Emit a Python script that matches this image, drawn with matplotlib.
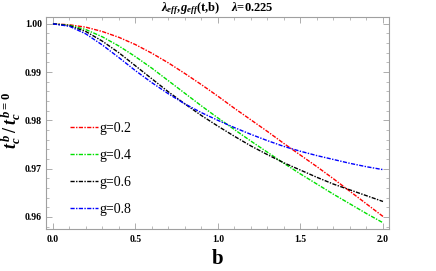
import numpy as np
import matplotlib
matplotlib.use("Agg")
import matplotlib.pyplot as plt
from matplotlib.ticker import MultipleLocator

plt.rcParams['font.family'] = 'Liberation Serif'
plt.rcParams['font.weight'] = 'bold'
plt.rcParams['mathtext.fontset'] = 'custom'
plt.rcParams['mathtext.rm'] = 'Liberation Serif:bold'
plt.rcParams['mathtext.it'] = 'Liberation Serif:italic:bold'
plt.rcParams['mathtext.bf'] = 'Liberation Serif:bold'

# values
b = [0.0, 0.1, 0.2, 0.3, 0.4, 0.5, 0.6, 0.7, 0.8, 0.9, 1.0,
     1.1, 1.2, 1.3, 1.4, 1.5, 1.6, 1.7, 1.8, 1.9, 2.0]
ratio_g02 = [1.0000, 0.9998, 0.9993, 0.9984, 0.9972, 0.9957, 0.9939, 0.9919, 0.9897, 0.9874, 0.9850,
             0.9825, 0.9801, 0.9777, 0.9752, 0.9728, 0.9704, 0.9679, 0.9653, 0.9627, 0.9601]
ratio_g04 = [1.0000, 0.9997, 0.9988, 0.9973, 0.9954, 0.9932, 0.9908, 0.9882, 0.9856, 0.9830, 0.9805,
             0.9781, 0.9757, 0.9734, 0.9711, 0.9689, 0.9668, 0.9647, 0.9627, 0.9607, 0.9588]
ratio_g06 = [1.0000, 0.9996, 0.9984, 0.9964, 0.9940, 0.9913, 0.9886, 0.9859, 0.9834, 0.9810, 0.9788,
             0.9767, 0.9747, 0.9729, 0.9712, 0.9697, 0.9682, 0.9668, 0.9656, 0.9644, 0.9632]
ratio_g08 = [1.0000, 0.9995, 0.9979, 0.9956, 0.9930, 0.9903, 0.9878, 0.9855, 0.9834, 0.9816, 0.9800,
             0.9785, 0.9771, 0.9758, 0.9746, 0.9736, 0.9727, 0.9719, 0.9711, 0.9704, 0.9698]
labels = ['g=0.2', 'g=0.4', 'g=0.6', 'g=0.8']
colors = ['#ff0000', '#00e000', '#000000', '#0000ff']

fig = plt.figure(figsize=(4.36, 2.71), dpi=100)
ax = fig.add_axes([0.1055, 0.155, 0.7865, 0.782])

for ys, lab, c in zip([ratio_g02, ratio_g04, ratio_g06, ratio_g08], labels, colors):
    ax.plot(b, ys, color=c, lw=1.0, ls=(0, (3, 1, 1, 1)), label=lab)

ax.set_xlim(-0.042, 2.036)
ax.set_ylim(0.9575, 1.0014)
ax.xaxis.set_major_locator(MultipleLocator(0.5))
ax.xaxis.set_minor_locator(MultipleLocator(0.1))
ax.yaxis.set_major_locator(MultipleLocator(0.01))
ax.yaxis.set_minor_locator(MultipleLocator(0.002))
ax.xaxis.set_major_formatter(plt.FormatStrFormatter('%.1f'))
ax.yaxis.set_major_formatter(plt.FormatStrFormatter('%.2f'))

frame = '#a0a0a0'
for s in ax.spines.values():
    s.set_color(frame)
    s.set_linewidth(0.8)
ax.tick_params(which='both', direction='in', top=True, right=True, color=frame,
               labelsize=7, pad=4)
ax.tick_params(axis='y', which='both', pad=3)
ax.tick_params(which='major', length=4, width=0.6)
ax.tick_params(which='minor', length=2.5, width=0.5)

ax.set_xlabel('b', fontsize=15, fontweight='bold', labelpad=4)
ax.set_ylabel(r'$t_c^{\,b}\,/\,t_c^{\,b=0}$', fontsize=13, fontweight='bold')
ax.yaxis.set_label_coords(-0.066, 0.51)
ax.set_title(r'$\lambda_{eff}$,$g_{eff}$(t,b)    $\lambda$=0.225', fontsize=9,
             fontweight='bold', pad=3)

ax.legend(loc='upper left', bbox_to_anchor=(0.07, 0.505), frameon=False,
          handlelength=2.0, handletextpad=0.1, labelspacing=1.0, borderpad=0,
          borderaxespad=0, prop={'family': 'Liberation Serif', 'weight': 'normal', 'size': 10})

fig.savefig('out.png', dpi=100)
